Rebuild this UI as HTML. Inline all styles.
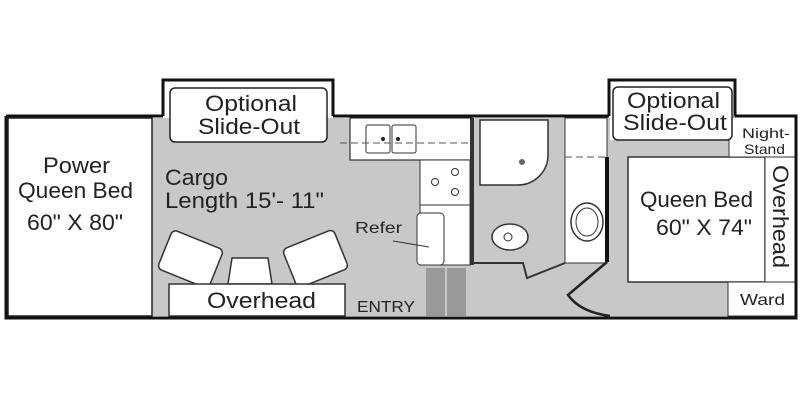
<!DOCTYPE html>
<html><head><style>
html,body{margin:0;padding:0;background:#fff;}
svg{display:block;}
text{font-family:"Liberation Sans",sans-serif;fill:#222;}
</style></head><body>
<svg width="800" height="400" viewBox="0 0 800 400" xmlns="http://www.w3.org/2000/svg">
<rect x="152" y="118" width="320" height="198" fill="#c8c8c8"/>
<rect x="470" y="118" width="140" height="198" fill="#c8c8c8"/>
<rect x="609" y="140" width="120" height="176" fill="#c8c8c8"/>
<rect x="8" y="118" width="144" height="198" fill="#fff" stroke="#222" stroke-width="1.5"/>
<rect x="350" y="118" width="122" height="42" fill="#fff" stroke="#333" stroke-width="1.2"/>
<rect x="366" y="125" width="24" height="28" rx="2" fill="#fff" stroke="#333"/>
<rect x="392" y="125" width="24" height="28" rx="2" fill="#fff" stroke="#333"/>
<circle cx="383" cy="139" r="2" fill="#222"/><circle cx="398" cy="139" r="2" fill="#222"/>
<line x1="340" y1="143" x2="470" y2="143" stroke="#555" stroke-dasharray="7,4"/>
<rect x="420" y="160" width="50" height="45" fill="#fff" stroke="#333"/>
<circle cx="435" cy="182" r="3.5" fill="none" stroke="#333"/><circle cx="455" cy="172" r="3.5" fill="none" stroke="#333"/><circle cx="455" cy="192" r="3.5" fill="none" stroke="#333"/>
<rect x="420" y="205" width="50" height="60" fill="#fff" stroke="#333"/>
<rect x="417" y="213" width="27" height="52" rx="4" fill="#fff" stroke="#333"/>
<line x1="393" y1="241" x2="429" y2="247" stroke="#333"/>
<rect x="426" y="268" width="19" height="48" fill="#999"/>
<rect x="447" y="268" width="19" height="48" fill="#999"/>
<line x1="472" y1="118" x2="472" y2="265" stroke="#333" stroke-width="4"/>
<path d="M480 120 H548 V155 A30 30 0 0 1 518 185 H480 Z" fill="#fff" stroke="#333" stroke-width="1.5"/>
<circle cx="522" cy="162" r="3" fill="#666"/>
<ellipse cx="510" cy="237" rx="18" ry="13" fill="#fff" stroke="#333" stroke-width="1.5"/>
<circle cx="508" cy="237" r="4" fill="none" stroke="#333"/>
<path d="M472 263 H523 L527 278 L565 263" fill="none" stroke="#333" stroke-width="2"/>
<rect x="565" y="118" width="42" height="145" fill="#fff" stroke="#333"/>
<line x1="565" y1="157" x2="607" y2="157" stroke="#555" stroke-dasharray="7,4"/>
<ellipse cx="587" cy="222" rx="16" ry="19" fill="#fff" stroke="#333" stroke-width="1.5"/>
<ellipse cx="587" cy="222" rx="11" ry="14" fill="none" stroke="#333"/>
<line x1="607" y1="157" x2="607" y2="262" stroke="#111" stroke-width="4"/>
<path d="M607 262 L568 295 Q580 312 610 316" fill="none" stroke="#222" stroke-width="2.5"/>
<rect x="628" y="157" width="137" height="125" fill="#fff" stroke="#333" stroke-width="1.5"/>
<rect x="765" y="157" width="30" height="125" fill="#fff" stroke="#333"/>
<rect x="728" y="282" width="67" height="34" fill="#fff" stroke="#333"/>
<rect x="729" y="117" width="66" height="40" fill="#fff" stroke="#333"/>
<g fill="#fff" stroke="#333" stroke-width="1.5">
<rect x="163" y="238" width="55" height="42" rx="5" transform="rotate(22 190 259)"/>
<rect x="288" y="238" width="55" height="42" rx="5" transform="rotate(-22 315 259)"/>
<path d="M232 258 H268 L272 284 H228 Z"/>
<rect x="169" y="284" width="176" height="32"/>
</g>
<g stroke="#111" stroke-width="3" fill="none">
<path d="M6 116 H163 M333 116 H609 M735 116 H796 V318 H6 V116"/>
<path d="M163 116 V80 H333 V116"/>
<path d="M609 116 V80 H735 V116"/>
</g>
<rect x="170" y="88" width="157" height="54" rx="5" fill="#fff" stroke="#222" stroke-width="1.5"/>
<rect x="613" y="87" width="119" height="53" rx="5" fill="#fff" stroke="#222" stroke-width="1.5"/>
<g font-size="22" lengthAdjust="spacingAndGlyphs">
<text x="205" y="111" textLength="92" lengthAdjust="spacingAndGlyphs">Optional</text>
<text x="198" y="134" textLength="102" lengthAdjust="spacingAndGlyphs">Slide-Out</text>
<text x="627" y="108" textLength="93" lengthAdjust="spacingAndGlyphs">Optional</text>
<text x="623" y="130" textLength="104" lengthAdjust="spacingAndGlyphs">Slide-Out</text>
<text x="43" y="173" textLength="67" lengthAdjust="spacingAndGlyphs">Power</text>
<text x="18" y="198" textLength="115" lengthAdjust="spacingAndGlyphs">Queen Bed</text>
<text x="27" y="230" textLength="96" lengthAdjust="spacingAndGlyphs">60" X 80"</text>
<text x="165" y="185" textLength="63" lengthAdjust="spacingAndGlyphs">Cargo</text>
<text x="165" y="208" textLength="159" lengthAdjust="spacingAndGlyphs">Length 15'- 11"</text>
<text x="207" y="308" textLength="109" lengthAdjust="spacingAndGlyphs">Overhead</text>
<text x="640" y="207" textLength="113" lengthAdjust="spacingAndGlyphs">Queen Bed</text>
<text x="656" y="235" textLength="96" lengthAdjust="spacingAndGlyphs">60" X 74"</text>
<text x="165" y="0" textLength="103" lengthAdjust="spacingAndGlyphs" transform="translate(773 0) rotate(90 0 0) translate(0 0)">Overhead</text>
</g>
<text x="355" y="233" font-size="16" textLength="47" lengthAdjust="spacingAndGlyphs">Refer</text>
<text x="357" y="312" font-size="16" textLength="58" lengthAdjust="spacingAndGlyphs">ENTRY</text>
<text x="742" y="138" font-size="14" textLength="48" lengthAdjust="spacingAndGlyphs">Night-</text>
<text x="744" y="154" font-size="14" textLength="41" lengthAdjust="spacingAndGlyphs">Stand</text>
<text x="740" y="305" font-size="16" textLength="45" lengthAdjust="spacingAndGlyphs">Ward</text>
</svg>
</body></html>
